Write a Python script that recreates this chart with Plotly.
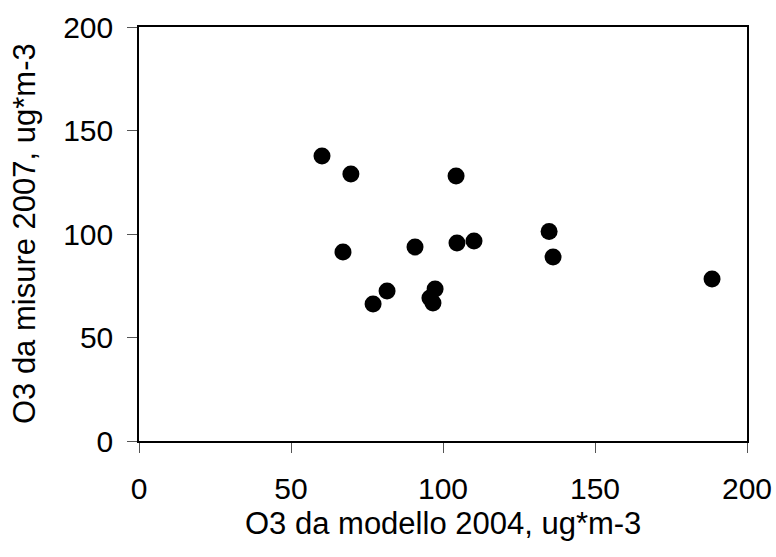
import plotly.graph_objects as go

# O3 values (ug*m-3)
o3_model_2004 = [60.2, 69.7, 67.1, 77.0, 81.6, 90.8, 96.7, 95.7, 97.4, 104.3, 104.6, 110.2, 134.9, 136.2, 188.5]
o3_meas_2007 = [137.7, 129.0, 91.3, 66.2, 72.5, 93.7, 66.7, 69.1, 73.4, 128.0, 95.7, 96.6, 101.2, 88.9, 78.3]

x_ticks = [0, 50, 100, 150, 200]
y_ticks = [0, 50, 100, 150, 200]

FONT = "Arial, Liberation Sans, sans-serif"

fig = go.Figure(
    go.Scatter(
        x=o3_model_2004,
        y=o3_meas_2007,
        mode="markers",
        marker=dict(color="black", size=17, line=dict(width=0)),
        showlegend=False,
        cliponaxis=False,
    )
)

axis_common = dict(
    range=[0, 200],
    showgrid=False,
    zeroline=False,
    showline=True,
    linecolor="black",
    linewidth=1.5,
    mirror=True,
    ticks="outside",
    ticklen=10,
    tickwidth=1,
    tickcolor="#555555",
    automargin=False,
    tickfont=dict(family=FONT, size=30, color="black"),
)

fig.update_xaxes(tickvals=x_ticks, ticklabelstandoff=10, **axis_common)
fig.update_yaxes(tickvals=y_ticks, ticklabelstandoff=8, **axis_common)

fig.add_annotation(
    text="O3 da modello 2004, ug*m-3",
    xref="paper", yref="paper", x=0.5, y=-0.2,
    xanchor="center", yanchor="middle", showarrow=False,
    font=dict(family=FONT, size=31, color="black"),
)
fig.add_annotation(
    text="O3 da misure 2007, ug*m-3",
    xref="paper", yref="paper", x=-0.189, y=0.5,
    xanchor="center", yanchor="middle", showarrow=False, textangle=-90,
    font=dict(family=FONT, size=31, color="black"),
)

fig.update_layout(
    width=776, height=557,
    margin=dict(l=139, r=29, t=27, b=116, autoexpand=False),
    plot_bgcolor="white", paper_bgcolor="white",
)

fig.write_html("out.html")
